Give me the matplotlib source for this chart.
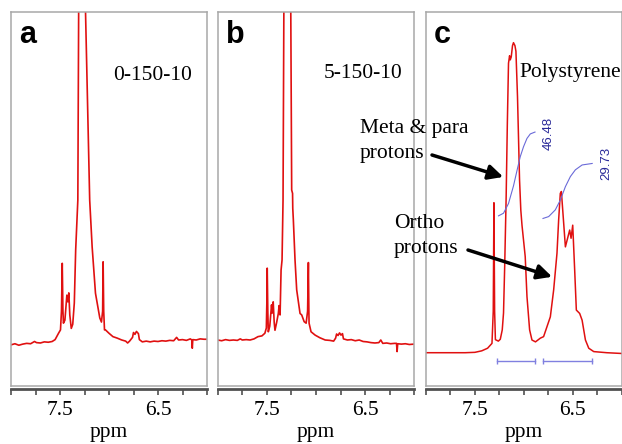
import matplotlib.pyplot as plt

plt.rcParams['font.family'] = ['Liberation Serif', 'DejaVu Serif']

# spectrum a : 0-150-10  (ppm, intensity in arbitrary units, axis 0..100)
a_ppm = [8.00, 7.96, 7.92, 7.88, 7.84, 7.80, 7.76, 7.74, 7.70, 7.66, 7.62, 7.58, 7.55,
         7.515, 7.495, 7.485, 7.477, 7.47, 7.465, 7.45, 7.43, 7.42, 7.41, 7.40, 7.385,
         7.37, 7.354, 7.34, 7.318, 7.308, 7.277, 7.248, 7.197, 7.172, 7.138, 7.094,
         7.077, 7.065, 7.06, 7.054, 7.046, 7.036, 7.00, 6.96, 6.916, 6.87, 6.83, 6.81,
         6.79, 6.76, 6.75, 6.735, 6.72, 6.70, 6.69, 6.66, 6.62, 6.58, 6.54, 6.50, 6.46,
         6.42, 6.38, 6.34, 6.31, 6.29, 6.25, 6.21, 6.17, 6.155, 6.15, 6.145, 6.11, 6.07,
         6.03, 6.00]
a_int = [11.0, 11.3, 10.9, 11.2, 11.4, 11.3, 11.9, 11.6, 11.5, 11.8, 11.7, 11.9, 12.4,
         14.1, 15.0, 20.0, 32.8, 20.0, 16.8, 17.6, 24.3, 22.5, 24.9, 19.0, 15.4,
         16.5, 22.2, 36.4, 49.7, 110, 600, 110, 49.7, 37.2, 24.8, 18.2,
         17.1, 20.0, 33.2, 20.0, 15.0, 15.0, 14.1, 13.2, 12.8, 12.3, 12.0, 11.5,
         12.0, 13.0, 14.3, 13.8, 14.6, 14.0, 12.4, 11.8, 12.0, 11.8, 12.0, 11.9, 12.1,
         12.0, 12.2, 12.1, 13.0, 12.3, 12.4, 12.2, 12.6, 12.3, 10.1, 12.4, 12.3, 12.6,
         12.5, 12.5]

# spectrum b : 5-150-10
b_ppm = [8.00, 7.96, 7.92, 7.88, 7.84, 7.80, 7.77, 7.75, 7.71, 7.67, 7.63, 7.59, 7.55,
         7.52, 7.505, 7.50, 7.496, 7.49, 7.485, 7.47, 7.452, 7.445, 7.435, 7.425, 7.417,
         7.40, 7.383, 7.375, 7.365, 7.355, 7.345, 7.335, 7.325, 7.29, 7.258, 7.247,
         7.238, 7.236, 7.23, 7.213, 7.196, 7.162, 7.145, 7.12, 7.10, 7.085, 7.077, 7.072,
         7.07, 7.05, 7.008, 6.96, 6.906, 6.86, 6.82, 6.80, 6.79, 6.775, 6.76, 6.745, 6.73,
         6.72, 6.68, 6.64, 6.60, 6.56, 6.52, 6.48, 6.44, 6.40, 6.36, 6.34, 6.32, 6.28,
         6.24, 6.20, 6.18, 6.174, 6.168, 6.13, 6.09, 6.05, 6.00]
b_int = [12.3, 12.1, 12.4, 12.2, 12.3, 12.2, 12.6, 12.3, 12.4, 12.3, 12.6, 13.2, 13.4,
         14.1, 15.5, 22.0, 31.5, 20.0, 14.5, 16.0, 21.7, 19.5, 22.5, 17.0, 14.9,
         17.0, 19.4, 21.5, 19.0, 31.0, 33.7, 49.7, 110, 600, 110, 52.4,
         51.5, 47.5, 44.4, 33.7, 25.7, 19.4, 19.0, 17.2, 16.8, 20.0, 33.0, 20.0,
         16.8, 14.5, 13.6, 12.9, 12.3, 12.2, 12.0, 12.8, 13.9, 13.5, 14.2, 13.6, 14.0,
         12.6, 12.3, 12.4, 12.1, 12.3, 11.9, 11.8, 11.6, 11.5, 11.6, 12.3, 11.4, 11.5,
         11.3, 11.4, 11.4, 9.2, 11.3, 11.2, 11.3, 11.1, 11.2]

# spectrum c : polystyrene
c_ppm = [8.00, 7.80, 7.60, 7.50, 7.43, 7.37, 7.325, 7.312, 7.305, 7.298, 7.29, 7.26,
         7.24, 7.22, 7.207, 7.195, 7.18, 7.168, 7.156, 7.145, 7.138, 7.128, 7.115,
         7.105, 7.09, 7.08, 7.064, 7.043, 7.03, 7.018, 6.985, 6.967, 6.94, 6.916, 6.88,
         6.83, 6.797, 6.728, 6.694, 6.66, 6.643, 6.626, 6.615, 6.574, 6.53, 6.516,
         6.499, 6.479, 6.462, 6.428, 6.403, 6.369, 6.335, 6.284, 6.15, 6.00]
c_int = [8.9, 8.9, 8.9, 9.0, 9.4, 10.1, 11.4, 20.0, 49.0, 20.0, 12.4, 12.0,
         12.5, 15.0, 19.5, 32.0, 50.6, 70.0, 86.3, 88.3, 87.2, 88.0, 91.0,
         91.8, 91.0, 89.5, 77.4, 55.1, 47.0, 43.0, 34.6, 23.9, 15.0, 12.3, 11.8,
         12.8, 13.2, 18.5, 25.7, 35.5, 44.4, 51.5, 52.0, 37.2, 41.7, 39.5,
         43.0, 31.0, 20.3, 19.4, 17.6, 12.3, 10.1, 9.2, 8.9, 8.7]

# integral curves and ranges in panel c
int1_ppm = [7.258, 7.207, 7.156, 7.105, 7.07, 7.036, 7.002, 6.967, 6.933, 6.885]
int1_val = [45.5, 46.2, 48.8, 53.5, 57.5, 61.3, 64.0, 66.2, 67.4, 67.9]
int2_ppm = [6.803, 6.745, 6.677, 6.626, 6.574, 6.523, 6.472, 6.403, 6.30]
int2_val = [44.8, 45.3, 47.1, 49.7, 53.3, 56.0, 57.8, 59.1, 59.5]
int_ranges = [(7.27, 6.885), (6.80, 6.30)]
int_labels = ['46.48', '29.73']
int_label_pos = [(6.75, 67.6), (6.16, 59.6)]

spectra = [(a_ppm, a_int), (b_ppm, b_int), (c_ppm, c_int)]
letters = ['a', 'b', 'c']
names = ['0-150-10', '5-150-10', 'Polystyrene']
name_x = [0.52, 0.539, 0.48]
name_y = [0.818, 0.823, 0.827]

ticks = [8.0, 7.75, 7.5, 7.25, 7.0, 6.75, 6.5, 6.25, 6.0]
tick_labels = ['', '', '7.5', '', '', '', '6.5', '', '']

W, H = 622, 444
fig = plt.figure(figsize=(W / 100, H / 100), dpi=100)
lefts = [11, 217.7, 426]
widths = [196, 196.5, 195.5]
red = '#e01010'
grey = '#a8a8a8'
axes = []
for i in range(3):
    ax = fig.add_axes([lefts[i] / W, 58 / H, widths[i] / W, 374 / H])
    axes.append(ax)
    ppm, inten = spectra[i]
    ax.plot(ppm, inten, color=red, lw=1.2 if i < 2 else 1.1)
    for s in ['top', 'left', 'right']:
        ax.spines[s].set_color(grey)
        ax.spines[s].set_linewidth(1.1)
    ax.spines['bottom'].set_color('#505050')
    ax.spines['bottom'].set_linewidth(2)
    ax.spines['bottom'].set_position(('outward', 2))
    ax.plot([0, 1], [0, 0], transform=ax.transAxes, color=grey, lw=1.1, clip_on=False)
    ax.set_xlim(8.0, 6.0)
    ax.set_ylim(0, 100)
    ax.set_yticks([])
    ax.set_xticks(ticks)
    ax.set_xticklabels(tick_labels)
    ax.tick_params(axis='x', direction='out', length=4, width=1.2, color='#505050',
                   pad=5, labelsize=15.5)
    ax.set_xlabel('ppm', fontsize=15.5, labelpad=2)
    ax.text(0.04, 0.918, letters[i], transform=ax.transAxes, fontsize=22,
            fontweight='bold', family='Liberation Sans', va='baseline')
    ax.text(name_x[i], name_y[i], names[i], transform=ax.transAxes, fontsize=15.5,
            va='baseline', clip_on=False)

axc = axes[2]
blue_line = '#6a6ad8'
axc.plot(int1_ppm, int1_val, color=blue_line, lw=0.8)
axc.plot(int2_ppm, int2_val, color=blue_line, lw=0.8)
for x0, x1 in int_ranges:
    axc.plot([x0, x1], [6.8, 6.8], color='#8080e0', lw=1.0, marker='|', ms=4, mew=1.0)
for lab, (x, y) in zip(int_labels, int_label_pos):
    axc.text(x, y, lab, rotation=90, ha='center', va='center', fontsize=9.5,
             color='#2a2a9a', family='Liberation Sans')

# annotations
fig.text(360 / W, 1 - 132.7 / H, 'Meta & para', fontsize=15.5, va='baseline')
fig.text(360 / W, 1 - 158 / H, 'protons', fontsize=15.5, va='baseline')
fig.text(394 / W, 1 - 228 / H, 'Ortho', fontsize=15.5, va='baseline')
fig.text(394 / W, 1 - 253 / H, 'protons', fontsize=15.5, va='baseline')
arrow = dict(arrowstyle='-|>', color='black', lw=2.5, mutation_scale=22,
             shrinkA=0, shrinkB=0)
axc.annotate('', xy=(7.21, 55.9), xytext=(432 / W, 1 - 155 / H),
             textcoords='figure fraction', arrowprops=arrow)
axc.annotate('', xy=(6.71, 29.2), xytext=(468 / W, 1 - 250 / H),
             textcoords='figure fraction', arrowprops=arrow)

fig.savefig('out.png', dpi=100)
